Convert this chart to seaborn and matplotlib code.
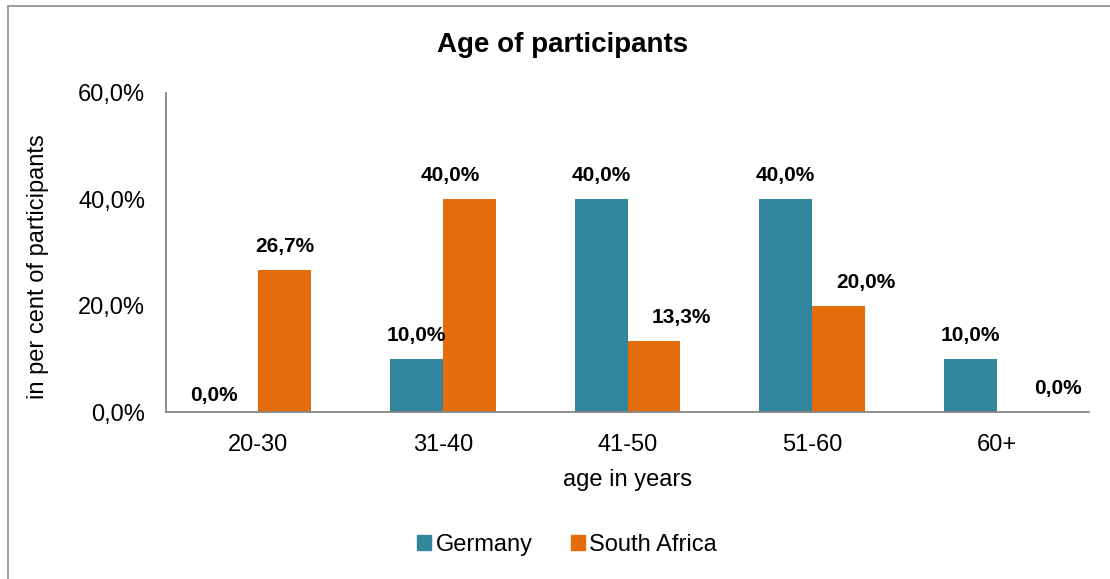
import matplotlib
matplotlib.use("Agg")
import matplotlib.pyplot as plt
import seaborn as sns
import pandas as pd
from matplotlib.patches import Rectangle

# Data
age_groups = ["20-30", "31-40", "41-50", "51-60", "60+"]
germany = [0.0, 10.0, 40.0, 40.0, 10.0]
south_africa = [26.7, 40.0, 13.3, 20.0, 0.0]
series_names = ["Germany", "South Africa"]
y_ticks = [0, 20, 40, 60]

colors = ["#31859C", "#E46C0A"]

df = pd.DataFrame({
    "age": age_groups * 2,
    "value": germany + south_africa,
    "country": [series_names[0]] * len(age_groups) + [series_names[1]] * len(age_groups),
})

sns.set_theme(style="white")
plt.rcParams["font.family"] = ["Liberation Sans", "DejaVu Sans"]
plt.rcParams["text.color"] = "black"
plt.rcParams["axes.labelcolor"] = "black"

fig = plt.figure(figsize=(11.10, 5.79), dpi=100)
ax = fig.add_axes([166 / 1110, 1 - 412 / 579, (1089 - 166) / 1110, (412 - 93) / 579])

sns.barplot(data=df, x="age", y="value", hue="country", palette=colors,
            width=0.574, saturation=1, ax=ax, legend=False, errorbar=None, gap=0,
            linewidth=0)

ax.set_ylim(0, 60)
ax.set_xlim(-0.5, 4.5)
ax.set_yticks(y_ticks)
ax.set_yticklabels([f"{v:.1f}%".replace(".", ",") for v in y_ticks], fontsize=17)
ax.set_xticks(range(len(age_groups)))
ax.set_xticklabels(age_groups, fontsize=17)
ax.tick_params(axis="both", length=0, colors="black")
ax.tick_params(axis="y", pad=15)
ax.tick_params(axis="x", pad=16)

for s in ["top", "right"]:
    ax.spines[s].set_visible(False)
for s in ["left", "bottom"]:
    ax.spines[s].set_color("#868686")
    ax.spines[s].set_linewidth(1.3)

ax.set_xlabel("age in years", fontsize=17, labelpad=9, color="black")
ax.set_ylabel("")
fig.text(38 / 1110, 1 - 267 / 579, "in per cent of participants", rotation=90,
         fontsize=17, ha="center", va="center", color="black")

# Bar labels (offsets in points mimic the original label placement)
label_shift = {
    (0, 0): (-13, 5), (1, 1): (-14, 10), (1, 2): (20, 10), (1, 3): (20, 10), (1, 4): (25, 10),
}
for si, cont in enumerate(ax.containers):
    for ci, bar in enumerate(cont):
        v = bar.get_height()
        dx, dy = label_shift.get((si, ci), (0, 10))
        ax.annotate(f"{v:.1f}%".replace(".", ","),
                    xy=(bar.get_x() + bar.get_width() / 2, v),
                    xytext=(dx, dy), textcoords="offset points",
                    ha="center", va="bottom", fontsize=15, fontweight="bold",
                    color="black")

fig.text(563 / 1110, 1 - 45 / 579, "Age of participants", fontsize=20,
         fontweight="bold", ha="center", va="center", color="black")

# Legend
handles = [Rectangle((0, 0), 1, 1, color=c) for c in colors]
leg = fig.legend(handles, series_names, loc="center", bbox_to_anchor=(567 / 1110, 1 - 545 / 579),
                 ncol=2, frameon=False, fontsize=17, handlelength=0.6, handleheight=0.6,
                 handletextpad=0.2, columnspacing=1.6)
for t in leg.get_texts():
    t.set_color("black")

# Outer frame
fig.patches.append(Rectangle((8 / 1110, -0.1), 1.2, 1 - 6 / 579 + 0.1,
                             transform=fig.transFigure, fill=False,
                             edgecolor="#8C8C8C", linewidth=1.2))

fig.savefig("out.png", dpi=100)
